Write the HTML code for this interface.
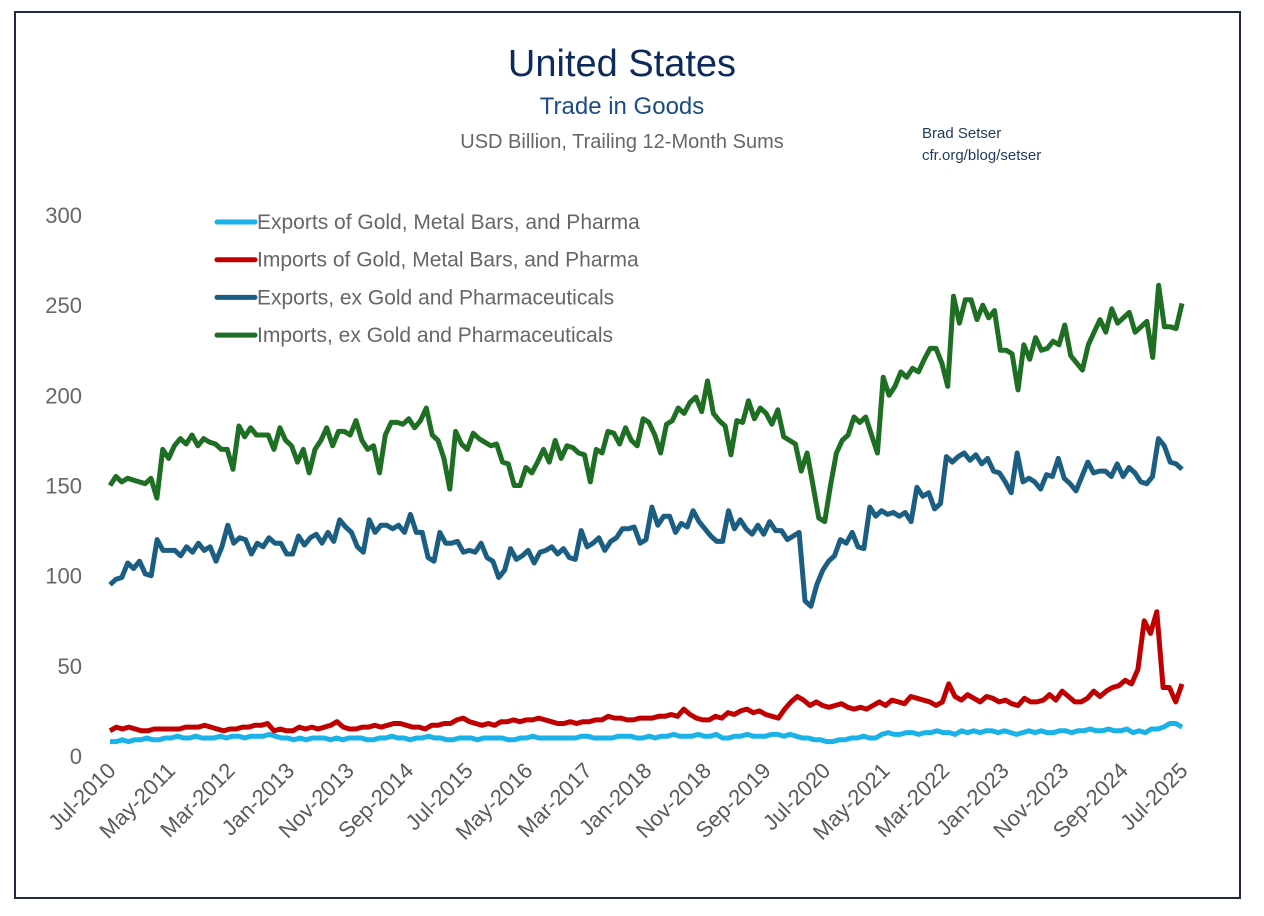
<!DOCTYPE html>
<html><head><meta charset="utf-8"><style>
body{margin:0;background:#fff;}
svg{display:block;font-family:"Liberation Sans",sans-serif;}
</style></head><body>
<svg width="1264" height="916" id="chart">
<rect x="15" y="12" width="1225" height="886" fill="#fff" stroke="#1b2c44" stroke-width="2"/>
<text x="622" y="76" text-anchor="middle" font-size="38" fill="#0d2a5c">United States</text>
<text x="622" y="114" text-anchor="middle" font-size="24" fill="#1d4b86">Trade in Goods</text>
<text x="622" y="148" text-anchor="middle" font-size="20" fill="#666">USD Billion, Trailing 12-Month Sums</text>
<text x="922" y="138" font-size="15" fill="#1d3a5c">Brad Setser</text>
<text x="922" y="160" font-size="15" fill="#1d3a5c">cfr.org/blog/setser</text>
<g id="yaxis"></g>
<g id="xaxis"></g>
<g id="series"></g>
<g id="legend"></g>
</svg>
<script>
const yTicks=[0,50,100,150,200,250,300];
const xLabels=["Jul-2010","May-2011","Mar-2012","Jan-2013","Nov-2013","Sep-2014","Jul-2015","May-2016","Mar-2017","Jan-2018","Nov-2018","Sep-2019","Jul-2020","May-2021","Mar-2022","Jan-2023","Nov-2023","Sep-2024","Jul-2025"];
const seriesNames=["Exports of Gold, Metal Bars, and Pharma","Imports of Gold, Metal Bars, and Pharma","Exports, ex Gold and Pharmaceuticals","Imports, ex Gold and Pharmaceuticals"];
const importsEx=[150,155,152,154,153,152,151,154,143,170,165,172,176,173,178,172,176,174,173,170,170,159,183,177,182,178,178,178,170,182,175,172,163,170,157,170,175,182,172,180,180,178,186,175,170,172,157,178,185,185,184,187,182,186,193,178,175,165,148,180,173,170,179,176,174,172,173,163,162,150,150,160,157,163,170,163,175,165,172,171,168,167,152,170,168,180,179,173,182,175,172,187,185,178,168,184,186,193,190,196,199,191,208,190,186,183,167,186,185,197,187,193,190,184,192,177,175,173,158,168,150,132,130,150,168,175,178,188,185,188,178,168,210,200,205,213,210,215,213,220,226,226,218,205,255,240,253,253,242,250,243,247,225,225,223,203,228,220,232,225,226,230,228,239,222,218,214,228,235,242,235,248,240,243,246,235,238,241,221,261,238,238,237,251];
const exportsEx=[95,98,99,107,104,108,101,100,120,114,114,114,111,116,113,118,114,116,108,116,128,118,121,120,112,118,116,121,118,118,112,112,122,117,121,123,118,124,119,131,127,124,116,113,131,124,128,128,126,128,124,134,124,124,110,108,124,118,118,119,113,114,113,118,110,108,99,103,115,109,111,114,107,113,114,116,112,115,110,109,125,116,118,121,114,119,121,126,126,127,118,120,138,128,133,133,124,129,127,136,130,126,122,119,119,136,126,131,126,123,128,123,130,125,125,120,122,124,86,83,95,103,108,111,120,118,124,116,115,138,133,136,134,135,133,135,130,149,144,146,137,140,166,163,166,168,164,167,162,165,158,157,152,146,168,152,154,152,148,156,155,165,154,151,147,155,163,157,158,158,155,162,155,160,157,152,151,155,176,172,163,162,159];
const importsGold=[14,16,15,16,15,14,14,15,15,15,15,15,16,16,16,17,16,15,14,15,15,16,16,17,17,18,14,15,14,14,16,15,16,15,16,17,19,16,15,15,16,16,17,16,17,18,18,17,16,16,15,17,17,18,18,20,21,19,18,17,18,17,19,19,20,19,20,20,21,20,19,18,18,19,18,19,19,20,20,22,21,21,20,20,21,21,21,22,22,23,22,26,23,21,20,20,22,21,24,23,25,26,24,25,23,22,21,26,30,33,31,28,30,28,27,28,29,27,26,27,26,28,30,28,31,30,29,33,32,31,30,28,30,40,33,31,34,32,30,33,32,30,31,29,28,32,30,30,31,34,31,36,33,30,30,32,36,33,36,38,39,42,40,48,75,68,80,38,38,30,40];
const exportsGold=[8,8,9,8,9,9,10,9,9,10,10,11,10,10,11,10,10,10,11,10,11,11,10,11,11,11,12,11,10,10,9,10,9,10,10,10,9,10,9,10,10,10,9,9,10,10,11,10,10,9,10,10,11,10,10,9,9,10,10,10,9,10,10,10,10,9,9,10,10,11,10,10,10,10,10,10,10,11,11,10,10,10,10,11,11,11,10,10,11,10,11,11,12,11,11,11,12,11,11,12,10,10,11,11,12,11,11,11,12,12,11,12,11,10,10,9,9,8,8,9,9,10,10,11,10,10,12,13,12,12,13,13,12,13,13,14,13,13,12,14,13,14,13,14,14,13,14,13,12,13,14,13,14,13,13,14,14,13,14,14,15,14,14,15,14,14,15,13,14,13,15,15,16,18,18,16];
const X0=110,X1=1182,Y0=756,Y300=215;
const ys=v=>Y0-(v/300)*(Y0-Y300);
const NS="http://www.w3.org/2000/svg";
function mk(tag,attrs,parent){const e=document.createElementNS(NS,tag);for(const k in attrs)e.setAttribute(k,attrs[k]);parent.appendChild(e);return e;}
const ya=document.getElementById('yaxis');
yTicks.forEach(t=>{const e=mk('text',{x:82,y:ys(t)+8,'text-anchor':'end','font-size':22,fill:'#666'},ya);e.textContent=t;

});
const xa=document.getElementById('xaxis');
xLabels.forEach((l,i)=>{const x=X0+(X1-X0)*i/(xLabels.length-1);const e=mk('text',{x:x+7,y:772,'text-anchor':'end','font-size':22,fill:'#5a5a5a',transform:`rotate(-45 ${x+7} 772)`},xa);e.textContent=l;

});
const sg=document.getElementById('series');
const defs=[[exportsGold,'#1ab2e8','exports-gold-pharma-line'],[importsGold,'#c00000','imports-gold-pharma-line'],[exportsEx,'#1b5e82','exports-ex-gold-line'],[importsEx,'#1e6e23','imports-ex-gold-line']];
defs.forEach(([arr,c,n])=>{const pts=arr.map((v,i)=>(X0+(X1-X0)*i/(arr.length-1)).toFixed(1)+','+ys(v).toFixed(1)).join(' ');
const p=mk('polyline',{points:pts,fill:'none',stroke:c,'stroke-width':5,'stroke-linejoin':'round'},sg);

});
const lg=document.getElementById('legend');
const lcols=['#1ab2e8','#c00000','#1b5e82','#1e6e23'];
seriesNames.forEach((s,i)=>{const y=222+i*37.7;
const ln=mk('line',{x1:217,x2:255,y1:y,y2:y,stroke:lcols[i],'stroke-width':5,'stroke-linecap':'round'},lg);


const t=mk('text',{x:257,y:y+7,'font-size':21,fill:'#666'},lg);t.textContent=s;

});
</script>
</body></html>
